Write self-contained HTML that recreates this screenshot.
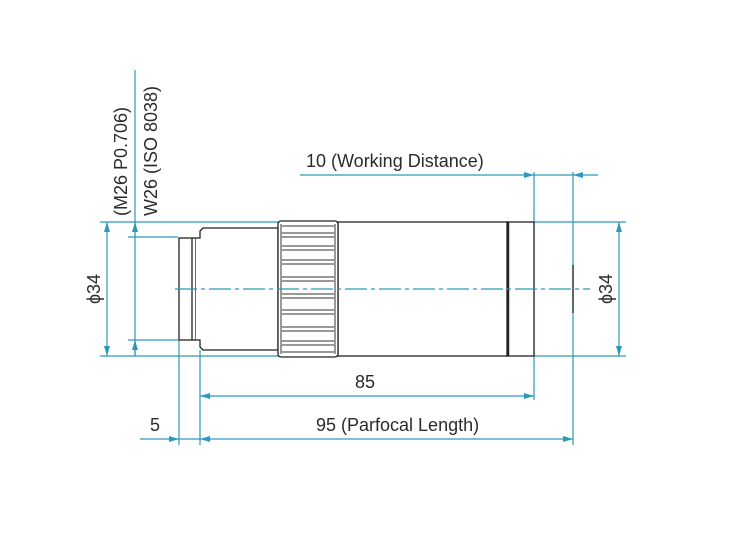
<!DOCTYPE html>
<html><head><meta charset="utf-8"><style>
html,body{margin:0;padding:0;background:#fff;width:750px;height:545px;overflow:hidden}
text{font-family:"Liberation Sans",Arial,sans-serif;fill:#2b2b2b;font-size:18px}
</style></head><body>
<svg width="750" height="545" viewBox="0 0 750 545" xmlns="http://www.w3.org/2000/svg">
<defs>
<marker id="a" viewBox="0 0 10 6" refX="10" refY="3" markerWidth="10" markerHeight="6" orient="auto-start-reverse" markerUnits="userSpaceOnUse"><path d="M0,0 L10,3 L0,6 z" fill="#2a9ab8"/></marker>
</defs>
<g stroke="#2a9ab8" stroke-width="1.2" fill="none">
<line x1="100" y1="222" x2="278" y2="222"/>
<line x1="100" y1="356" x2="278" y2="356"/>
<line x1="128" y1="237" x2="178" y2="237"/>
<line x1="128" y1="340" x2="178" y2="340"/>
<line x1="135" y1="70" x2="135" y2="356"/>
<line x1="107" y1="222" x2="107" y2="356" marker-start="url(#a)" marker-end="url(#a)"/>
<line x1="135" y1="237" x2="135" y2="222" marker-end="url(#a)"/>
<line x1="135" y1="340" x2="135" y2="356" marker-start="url(#a)"/>
<line x1="534" y1="222" x2="626" y2="222"/>
<line x1="534" y1="356" x2="626" y2="356"/>
<line x1="619" y1="222" x2="619" y2="356" marker-start="url(#a)" marker-end="url(#a)"/>
<line x1="534" y1="172" x2="534" y2="400"/>
<line x1="573" y1="172" x2="573" y2="445"/>
<line x1="179" y1="340" x2="179" y2="445"/>
<line x1="200" y1="350" x2="200" y2="445"/>
<line x1="300" y1="175" x2="534" y2="175" marker-end="url(#a)"/>
<line x1="598" y1="175" x2="573" y2="175" marker-end="url(#a)"/>
<line x1="534" y1="175" x2="573" y2="175"/>
<line x1="200" y1="396" x2="534" y2="396" marker-start="url(#a)" marker-end="url(#a)"/>
<line x1="200" y1="439" x2="573" y2="439" marker-start="url(#a)" marker-end="url(#a)"/>
<line x1="140" y1="439" x2="179" y2="439" marker-end="url(#a)"/>
<line x1="179" y1="439" x2="200" y2="439"/>
</g>
<g stroke="#222" fill="#fff" stroke-width="1.3">
<rect x="179" y="238" width="17" height="102"/>
<line x1="192" y1="238" x2="192" y2="340"/>
<path d="M196,238 L200,238 L200,231 L203,228 L278,228 L278,350 L203,350 L200,347 L200,340 L196,340" />
<rect x="338" y="222" width="170" height="134"/>
<rect x="507" y="222" width="27" height="134"/>
<line x1="508" y1="222" x2="508" y2="356" stroke-width="2.5"/>
<rect x="278" y="221" width="60" height="136" rx="3"/>
</g>
<g stroke="#333" stroke-width="1">
<line x1="282" y1="226" x2="334" y2="226"/>
<line x1="282" y1="233" x2="334" y2="233"/><line x1="282" y1="237" x2="334" y2="237"/>
<line x1="282" y1="246" x2="334" y2="246"/><line x1="282" y1="250" x2="334" y2="250"/>
<line x1="282" y1="260" x2="334" y2="260"/><line x1="282" y1="264" x2="334" y2="264"/>
<line x1="282" y1="277" x2="334" y2="277"/><line x1="282" y1="281" x2="334" y2="281"/>
<line x1="282" y1="294" x2="334" y2="294"/><line x1="282" y1="298" x2="334" y2="298"/>
<line x1="282" y1="310" x2="334" y2="310"/><line x1="282" y1="314" x2="334" y2="314"/>
<line x1="282" y1="327" x2="334" y2="327"/><line x1="282" y1="331" x2="334" y2="331"/>
<line x1="282" y1="341" x2="334" y2="341"/><line x1="282" y1="345" x2="334" y2="345"/>
<line x1="282" y1="352" x2="334" y2="352"/>
<line x1="281" y1="224" x2="281" y2="354"/><line x1="335" y1="224" x2="335" y2="354"/>
<line x1="573" y1="265" x2="573" y2="313" stroke="#222" stroke-width="1.3"/>
</g>
<line x1="175" y1="289" x2="590" y2="289" stroke="#2a9ab8" stroke-width="1.2" stroke-dasharray="22,4,4,4"/>
<text x="306" y="167">10 (Working Distance)</text>
<text x="355" y="388">85</text>
<text x="316" y="431">95 (Parfocal Length)</text>
<text x="150" y="431">5</text>
<text transform="translate(100,289) rotate(-90)" text-anchor="middle">ϕ34</text>
<text transform="translate(612,289) rotate(-90)" text-anchor="middle">ϕ34</text>
<text transform="translate(127,216) rotate(-90)">(M26 P0.706)</text>
<text transform="translate(157,216) rotate(-90)">W26 (ISO 8038)</text>
</svg>
</body></html>
